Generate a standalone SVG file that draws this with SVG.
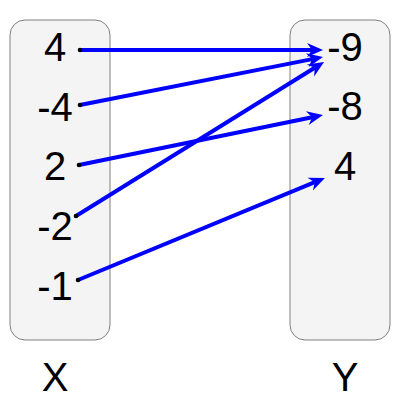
<svg xmlns="http://www.w3.org/2000/svg" width="400" height="400" viewBox="0 0 400 400">
<style>
.box{fill:#f4f4f4;stroke:#808080;stroke-width:1}
.t{font-family:"Liberation Sans",Arial,sans-serif;font-size:40px;fill:#000;text-anchor:middle}
.c{stroke:#0000ff;stroke-width:4;fill:none;marker-start:url(#dot);marker-end:url(#arr)}
</style>
<defs>
<marker id="arr" markerUnits="userSpaceOnUse" viewBox="-5 -8 18 16" refX="0" refY="0" markerWidth="18" markerHeight="16" orient="auto" overflow="visible">
<path d="M11,0 L-5,-7 L0,0 L-5,7 Z" fill="#0000ff"/>
</marker>
<marker id="dot" markerUnits="userSpaceOnUse" viewBox="-3 -3 6 6" refX="0" refY="0" markerWidth="6" markerHeight="6" overflow="visible">
<circle r="2.3" fill="#000"/>
</marker>
</defs>
<g id="X">
<rect class="box" x="10" y="20" width="100" height="320" rx="15" ry="15"/>
<text class="t" x="55" y="61">4</text>
<text class="t" x="55" y="121">-4</text>
<text class="t" x="55" y="180">2</text>
<text class="t" x="55" y="240">-2</text>
<text class="t" x="55" y="300">-1</text>
</g>
<g id="Y">
<rect class="box" x="290" y="20" width="100" height="320" rx="15" ry="15"/>
<text class="t" x="345" y="61">-9</text>
<text class="t" x="345" y="120">-8</text>
<text class="t" x="345" y="180">4</text>
</g>
<g id="labelX"><text class="t" x="55" y="391">X</text></g>
<g id="labelY"><text class="t" x="345" y="391">Y</text></g>
<g id="connectors">
<line class="c" x1="80" y1="50" x2="312" y2="50"/>
<line class="c" x1="80" y1="105" x2="312.2" y2="59.1"/>
<line class="c" x1="79" y1="165" x2="312.2" y2="117.2"/>
<line class="c" x1="76" y1="216" x2="314.7" y2="67.8"/>
<line class="c" x1="78" y1="280" x2="314.8" y2="182.2"/>
</g>
</svg>
